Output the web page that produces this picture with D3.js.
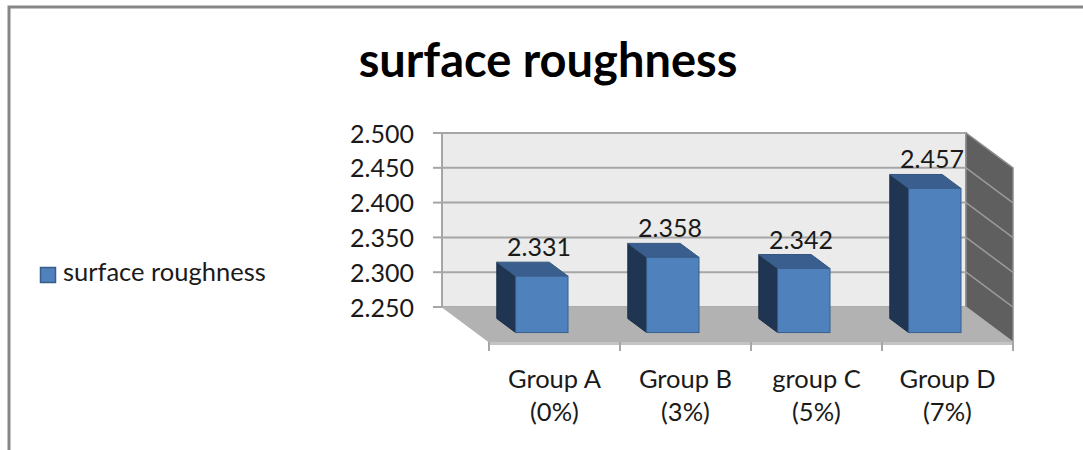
<!DOCTYPE html>
<html>
<head>
<meta charset="utf-8">
<script src="https://cdn.jsdelivr.net/npm/d3@7"></script>
<style>
  body { margin: 0; background: #fff; }
  text { font-family: Lato, "Open Sans", sans-serif; fill: #1a1a1a; }
</style>
</head>
<body>
<div id="chart"></div>
<script>
const width = 1083;
const height = 450;

// data
const categories = ["Group A", "Group B", "group C", "Group D"];
const subLabels = ["(0%)", "(3%)", "(5%)", "(7%)"];
const values = [2.331, 2.358, 2.342, 2.457];
const tickValues = [2.25, 2.3, 2.35, 2.4, 2.45, 2.5];
const seriesName = "surface roughness";

// oblique 3d offset from front of floor to back wall
const depthX = 47;
const depthY = 35;
const barFront = 0.27;   // depth fraction (0 = front, 1 = back)
const barBack = 0.67;

const x = d3.scaleBand()
    .domain(categories)
    .range([489, 1013])
    .paddingInner(0)
    .paddingOuter(0);

// value scale on the back wall
const y = d3.scaleLinear()
    .domain([2.25, 2.5])
    .range([307, 133]);

// project (front x, value, depth) to screen
function proj(px, v, f) {
    return [px - depthX * f, y(v) + depthY * (1 - f)];
}

const svg = d3.select("#chart")
    .append("svg")
    .attr("width", width)
    .attr("height", height);

// outer frame
svg.append("rect")
    .attr("x", 9)
    .attr("y", 7)
    .attr("width", width + 20)
    .attr("height", height + 20)
    .style("fill", "none")
    .style("stroke", "#878787")
    .style("stroke-width", 3);

// title
svg.append("text")
    .attr("x", 548)
    .attr("y", 77)
    .style("font-size", "47px")
    .style("font-weight", "bold")
    .style("text-anchor", "middle")
    .style("fill", "#000")
    .text(seriesName);

const x0 = x.range()[0], x1 = x.range()[1];
const vMin = y.domain()[0], vMax = y.domain()[1];

// back wall
const wall = [proj(x0, vMin, 1), proj(x1, vMin, 1), proj(x1, vMax, 1), proj(x0, vMax, 1)];
svg.append("polygon")
    .attr("points", wall.map(p => p.join(",")).join(" "))
    .style("fill", "#ebebeb")
    .style("stroke", "#a6a6a6")
    .style("stroke-width", 2);

// side wall
const side = [proj(x1, vMin, 1), proj(x1, vMin, 0), proj(x1, vMax, 0), proj(x1, vMax, 1)];
svg.append("polygon")
    .attr("points", side.map(p => p.join(",")).join(" "))
    .style("fill", "#5f5f5f")
    .style("stroke", "#8c8c8c")
    .style("stroke-width", 1.5);

// floor (with a thin front edge)
const floorPts = [proj(x0, vMin, 1), proj(x1, vMin, 1), proj(x1, vMin, 0), proj(x0, vMin, 0)];
svg.append("polygon")
    .attr("points", floorPts.map(p => p.join(",")).join(" "))
    .style("fill", "#b2b2b2")
    .style("stroke", "#b2b2b2")
    .style("stroke-width", 1);

const front = proj(x0, vMin, 0)[1];
svg.append("line")
    .attr("x1", x0).attr("x2", x1)
    .attr("y1", front + 1.5).attr("y2", front + 1.5)
    .style("stroke", "#c4c4c4")
    .style("stroke-width", 3);

// grid lines on back and side walls
tickValues.slice(1).forEach(t => {
    const a = proj(x0, t, 1), b = proj(x1, t, 1), c = proj(x1, t, 0);
    svg.append("line")
        .attr("x1", a[0]).attr("y1", a[1]).attr("x2", b[0]).attr("y2", b[1])
        .style("stroke", "#a6a6a6")
        .style("stroke-width", 2);
    if (t < vMax) {
        svg.append("line")
            .attr("x1", b[0]).attr("y1", b[1]).attr("x2", c[0]).attr("y2", c[1])
            .style("stroke", "#9a9a9a")
            .style("stroke-width", 1.5);
    }
});

// value axis ticks + labels
const yAxis = svg.append("g");
tickValues.forEach(t => {
    const p = proj(x0, t, 1);
    yAxis.append("line")
        .attr("x1", p[0] - 9).attr("x2", p[0])
        .attr("y1", p[1]).attr("y2", p[1])
        .style("stroke", "#a6a6a6")
        .style("stroke-width", 2);
    yAxis.append("text")
        .attr("x", p[0] - 28)
        .attr("y", p[1] + 9.5)
        .style("font-size", "25px")
        .style("text-anchor", "end")
        .text(d3.format(".3f")(t));
});

// category ticks on the front edge
const edges = categories.map(c => x(c)).concat([x1]);
edges.forEach(e => {
    svg.append("line")
        .attr("x1", e).attr("x2", e)
        .attr("y1", front).attr("y2", front + 9)
        .style("stroke", "#a6a6a6")
        .style("stroke-width", 2);
});

// category labels
const catLabels = svg.append("g");
categories.forEach((c, i) => {
    const cx = x(c) + x.bandwidth() / 2;
    catLabels.append("text")
        .attr("x", cx).attr("y", 388)
        .style("font-size", "25.5px")
        .style("text-anchor", "middle")
        .text(c);
    catLabels.append("text")
        .attr("x", cx).attr("y", 421)
        .style("font-size", "25.5px")
        .style("text-anchor", "middle")
        .text(subLabels[i]);
});

// bars
const barW = x.bandwidth() * 0.4;
const dX = depthX * (barBack - barFront);
const dY = depthY * (barBack - barFront);
const pts = arr => arr.map(p => p.join(",")).join(" ");

values.forEach((v, i) => {
    const c = categories[i];
    const cx = x(c) + x.bandwidth() / 2;
    const [fx, fyTop] = proj(cx, v, barFront);
    const fyBot = proj(cx, vMin, barFront)[1];
    const xl = fx - barW / 2, xr = fx + barW / 2;

    // left side face
    svg.append("polygon")
        .attr("points", pts([[xl, fyTop], [xl - dX, fyTop - dY], [xl - dX, fyBot - dY], [xl, fyBot]]))
        .style("fill", "#1f3552")
        .style("stroke", "#1a2d46")
        .style("stroke-width", 1);
    // top face
    svg.append("polygon")
        .attr("points", pts([[xl, fyTop], [xr, fyTop], [xr - dX, fyTop - dY], [xl - dX, fyTop - dY]]))
        .style("fill", "#3a5f8e")
        .style("stroke", "#34567f")
        .style("stroke-width", 1);
    // front face
    svg.append("rect")
        .attr("x", xl).attr("y", fyTop)
        .attr("width", barW).attr("height", fyBot - fyTop)
        .style("fill", "#4f81bd")
        .style("stroke", "#3a5f8b")
        .style("stroke-width", 1);

    // value label
    svg.append("text")
        .attr("x", cx - 15.5)
        .attr("y", fyTop - dY - 6)
        .style("font-size", "25px")
        .style("text-anchor", "middle")
        .text(d3.format(".3f")(v));
});

// legend
const legend = svg.append("g").attr("transform", "translate(40,267)");
legend.append("rect")
    .attr("x", 0.5).attr("y", 0.5)
    .attr("width", 15).attr("height", 15)
    .style("fill", "#4f81bd")
    .style("stroke", "#385d8a")
    .style("stroke-width", 1.5);
legend.append("text")
    .attr("x", 23)
    .attr("y", 14)
    .style("font-size", "25.5px")
    .text(seriesName);
</script>
</body>
</html>
